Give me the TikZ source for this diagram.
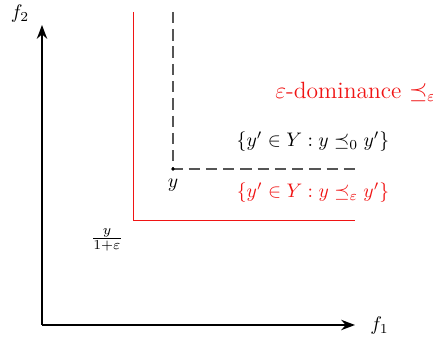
\documentclass[tikz,border=0pt]{standalone}
\usepackage{amsmath,amssymb}
\usetikzlibrary{arrows.meta}
\definecolor{DomRed}{RGB}{240,20,20}
\definecolor{DashGray}{RGB}{85,85,85}

\begin{document}
\begin{tikzpicture}[x=0.51pt,y=0.51pt,>=Stealth]
  \useasboundingbox (-42,-13) rectangle (391,325);
  % axes
  \coordinate (O) at (0,0);
  \coordinate (X) at (313,0);
  \coordinate (Y) at (0,300);
  \draw[line width=0.9pt,->] (O) -- (X);
  \draw[line width=0.9pt,->] (O) -- (Y);
  \node[anchor=west,inner sep=1pt] (f1) at (326,-1) {$f_1$};
  \node (f2) at (-22,311) {$f_2$};
  % epsilon-dominated region
  \coordinate (Etop) at (91,313);
  \coordinate (Ecorner) at (91,105);
  \coordinate (Eright) at (313,105);
  \draw[DomRed,line width=0.5pt] (Etop) -- (Ecorner) -- (Eright);
  % dominated region of y
  \coordinate (Dtop) at (131,313);
  \coordinate (Dright) at (313,156);
  \draw[DashGray,line width=0.7pt,dash pattern=on 5.8pt off 3pt] (Dtop) -- (131,156) -- (Dright);
  \fill (131,156) circle (1pt);
  \node (y) at (131,140) {$y$};
  \node (yeps) at (65,85) {$\frac{y}{1+\varepsilon}$};
  % labels
  \node[DomRed,anchor=west,inner sep=0pt] (title) at (233,233) {\large $\varepsilon$-dominance $\preceq_\varepsilon$};
  \node (dom0) at (271,183) {$\{y' \in Y : y \preceq_0 y'\}$};
  \node[DomRed] (domeps) at (271,132) {$\{y' \in Y : y \preceq_\varepsilon y'\}$};
\end{tikzpicture}
\end{document}
